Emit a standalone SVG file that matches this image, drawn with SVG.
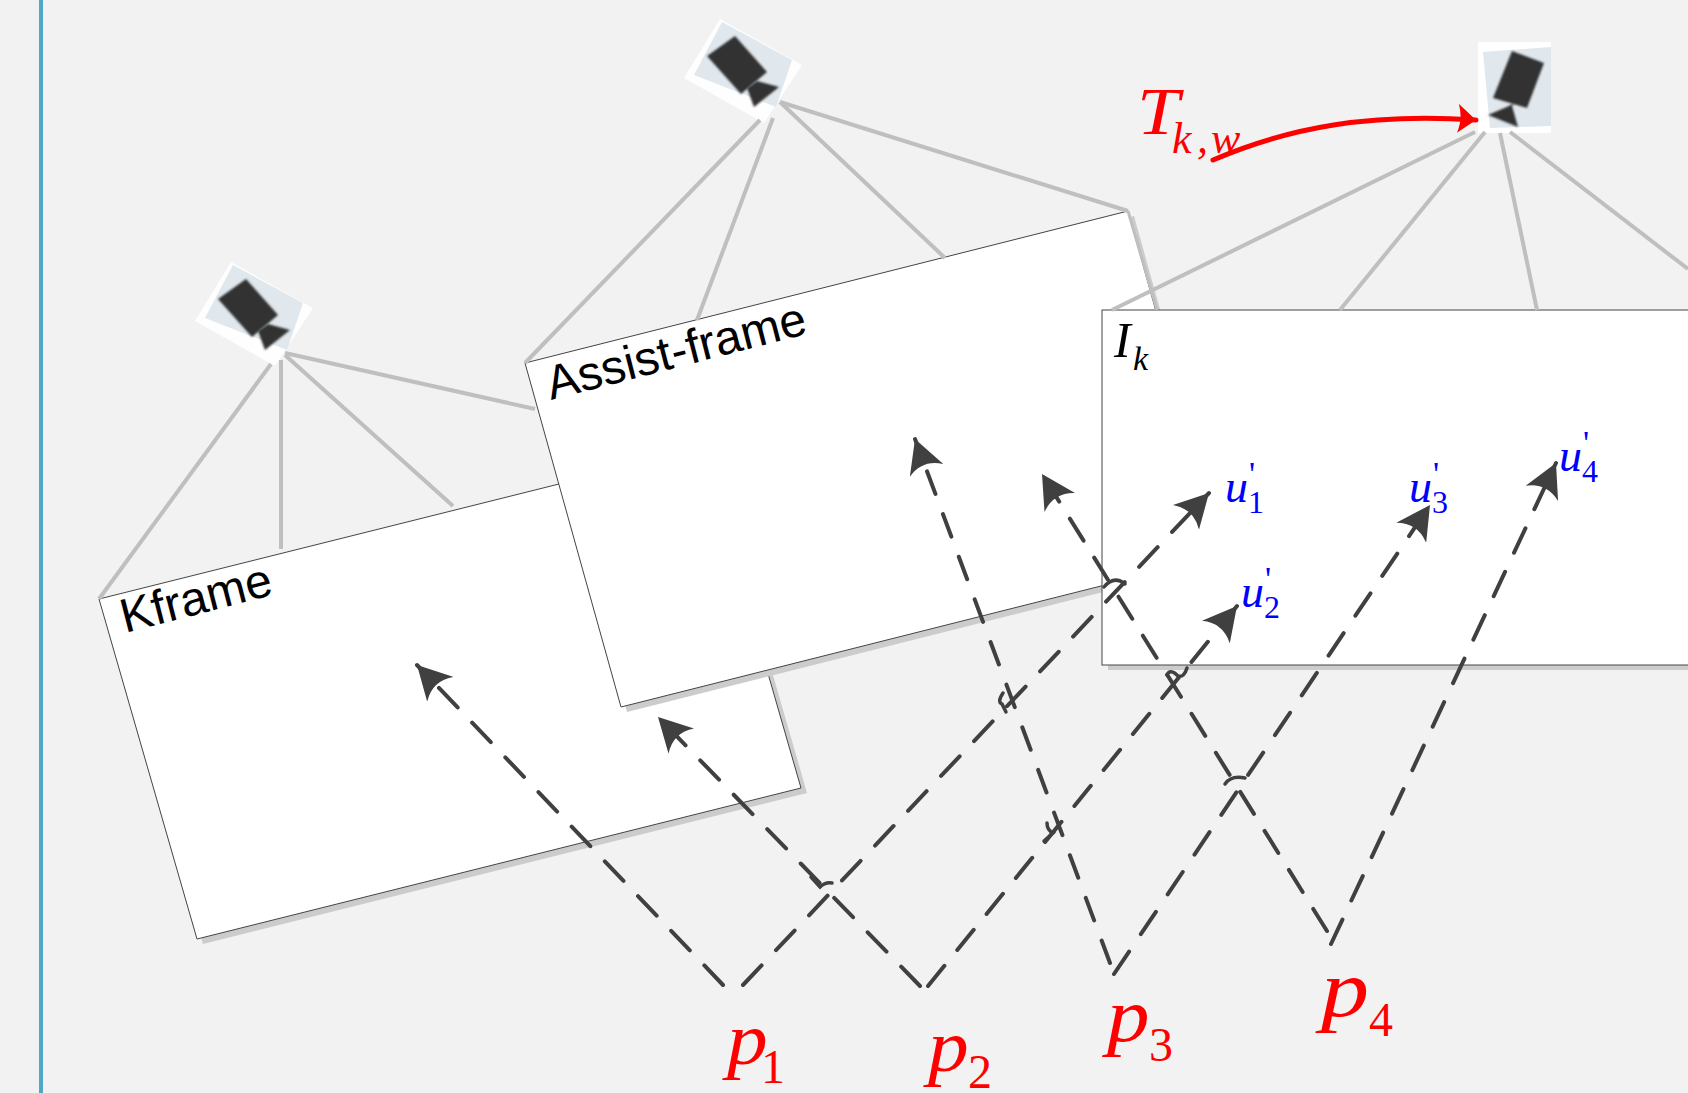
<svg xmlns="http://www.w3.org/2000/svg" width="1688" height="1093" viewBox="0 0 1688 1093">
<style>
.frame{fill:#fff;stroke:#444;stroke-width:1}
.shadow{fill:#ccc}
.ray{stroke:#bfbfbf;stroke-width:4;fill:none}
.dash{stroke:#404040;stroke-width:4;fill:none;stroke-dasharray:27 21;stroke-linecap:round;marker-end:url(#ah)}
.hop{stroke:#404040;stroke-width:3.5;fill:none;stroke-linecap:round}
.t{font-family:"Liberation Serif","Times New Roman",serif;font-style:italic}
.n{font-family:"Liberation Serif","Times New Roman",serif}
.s{font-family:"Liberation Sans",Arial,sans-serif;font-size:48px;fill:#000}
.red{fill:#f00}.blue{fill:#00f}
.body{fill:#333;filter:url(#b)}
</style>
<defs>
<filter id="b" x="-10%" y="-10%" width="120%" height="120%"><feGaussianBlur stdDeviation="1.1"/></filter>
<marker id="ah" markerUnits="userSpaceOnUse" markerWidth="36" markerHeight="36" refX="28" refY="15" orient="auto" viewBox="0 0 30 30"><path d="M0,0 L28,15 L0,30 Q10,15 0,0Z" fill="#404040"/></marker>
<marker id="rh" markerUnits="userSpaceOnUse" markerWidth="24" markerHeight="30" refX="17" refY="14" orient="auto" viewBox="0 0 20 28"><path d="M0,0 L17,14 L0,27 Q5,14 0,0Z" fill="#f00"/></marker>
<g id="cam">
<polygon points="231,262 313,308 275,366 195,321" fill="#fdfefd"/>
<polygon points="233,265 303,303 287,350 205,318" fill="#e0e8ee"/>
<polygon class="body" points="246,279 278,315 252,337 218,299"/>
<polygon class="body" points="258,331 268,324 290,330 265,350"/>
</g>
</defs>
<rect width="1688" height="1093" fill="#f2f2f2"/>
<rect x="39" y="0" width="4" height="1093" fill="#4fa8c8"/>
<g id="kframe">
<polygon class="shadow" points="105,604 709,453 807,793 203,944"/>
<polygon class="frame" points="99,599 703,448 801,788 197,939"/>
<text class="s" transform="translate(125,633) rotate(-14.5)">Kframe</text>
</g>
<g id="assist-frame">
<polygon class="shadow" points="531,368 1134,216 1230,560 627,712"/>
<polygon class="frame" points="525,363 1128,211 1224,555 621,707"/>
<text class="s" transform="translate(551,400) rotate(-14.5)">Assist-frame</text>
</g>
<g id="ik-frame">
<rect class="shadow" x="1108" y="316" width="580" height="354"/>
<rect class="frame" x="1102" y="310" width="590" height="355"/>
<text class="t" x="1114" y="357" font-size="50">I</text>
<text class="t" x="1133" y="370" font-size="34">k</text>
</g>
<g id="camera-1"><use href="#cam"/></g>
<g id="camera-2"><use href="#cam" transform="translate(489,-243)"/></g>
<g id="camera-3">
<rect x="1478" y="42" width="73" height="91" fill="#fff"/>
<polygon points="1483,52 1551,47 1551,126 1490,128" fill="#e0e8ee"/>
<polygon class="body" points="1512,51 1544,63 1527,108 1493,98"/>
<polygon class="body" points="1515,102 1509,106 1488,115 1518,127 1512,106"/>
</g>
<g id="connectors">
<g>
<line class="ray" x1="271" y1="364" x2="99" y2="599"/>
<line class="ray" x1="281" y1="360" x2="281" y2="549"/>
<line class="ray" x1="285" y1="355" x2="453" y2="506"/>
<line class="ray" x1="285" y1="353" x2="535" y2="409"/>
<line class="ray" x1="760" y1="120" x2="525" y2="363"/>
<line class="ray" x1="773" y1="118" x2="697" y2="320"/>
<line class="ray" x1="780" y1="102" x2="945" y2="258"/>
<line class="ray" x1="780" y1="102" x2="1128" y2="211"/>
<line class="ray" style="stroke-width:3" x1="1128" y1="211" x2="1157" y2="310"/>
<line class="ray" x1="1475" y1="132" x2="1112" y2="310"/>
<line class="ray" x1="1485" y1="132" x2="1340" y2="310"/>
<line class="ray" x1="1500" y1="133" x2="1537" y2="310"/>
<line class="ray" x1="1510" y1="132" x2="1688" y2="269"/>
</g>
<path class="dash" d="M723,985 L417,665"/>
<path class="dash" d="M743,985 L1209,493"/>
<path class="dash" d="M920,986 L658,717"/>
<path class="dash" style="stroke-dasharray:26 20.4" d="M928,986 L1237,606"/>
<path class="dash" style="stroke-dasharray:24 21.5" d="M1110,963 L915,439"/>
<path class="dash" d="M1114,974 L1430,505"/>
<path class="dash" style="stroke-dasharray:26 20" d="M1327,931 L1042,474"/>
<path class="dash" d="M1331,944 L1556,463"/>
<path class="hop" d="M1104,587 Q1114,575 1125,584"/>
<path class="hop" d="M1167,675 Q1170,668 1178,676 Q1184,678 1187,668"/>
<path class="hop" d="M811,877 L820,887 Q825,882 832,883"/>
<path class="hop" d="M1003,693 Q997,702 1002,704 L1006,712"/>
<path class="hop" d="M1047,823 Q1047,830 1053,833 L1044,841"/>
<path class="hop" d="M1225,784 Q1231,775 1245,778"/>
<path d="M1213,160 C1290,127 1370,113 1476,120" fill="none" stroke="#f00" stroke-width="5" stroke-linecap="round" marker-end="url(#rh)"/>
</g>
<g id="labels">
<text class="t red" transform="translate(1137,134) scale(1.12,1)" font-size="68">T</text>
<text class="t red" x="1172" y="153" font-size="44">k<tspan x="1197">,</tspan><tspan x="1211">w</tspan></text>
<text class="t blue" x="1225" y="502" font-size="46">u</text><text class="n blue" x="1248" y="513" font-size="32">1</text><text class="n blue" x="1249" y="485" font-size="34">'</text>
<text class="t blue" x="1241" y="607" font-size="46">u</text><text class="n blue" x="1264" y="618" font-size="32">2</text><text class="n blue" x="1265" y="590" font-size="34">'</text>
<text class="t blue" x="1409" y="502" font-size="46">u</text><text class="n blue" x="1432" y="513" font-size="32">3</text><text class="n blue" x="1433" y="485" font-size="34">'</text>
<text class="t blue" x="1559" y="471" font-size="46">u</text><text class="n blue" x="1582" y="482" font-size="32">4</text><text class="n blue" x="1583" y="454" font-size="34">'</text>
<text class="t red" transform="translate(727,1064) scale(1.1,1)" font-size="74">p</text><text class="n red" x="761" y="1083" font-size="48">1</text>
<text class="t red" transform="translate(928,1071) scale(1.1,1)" font-size="74">p</text><text class="n red" x="968" y="1088" font-size="48">2</text>
<text class="t red" transform="translate(1107,1041) scale(1.12,1)" font-size="76">p</text><text class="n red" x="1149" y="1061" font-size="48">3</text>
<text class="t red" transform="translate(1321,1016) scale(1.2,1)" font-size="80">p</text><text class="n red" x="1369" y="1036" font-size="48">4</text>
</g>
</svg>
